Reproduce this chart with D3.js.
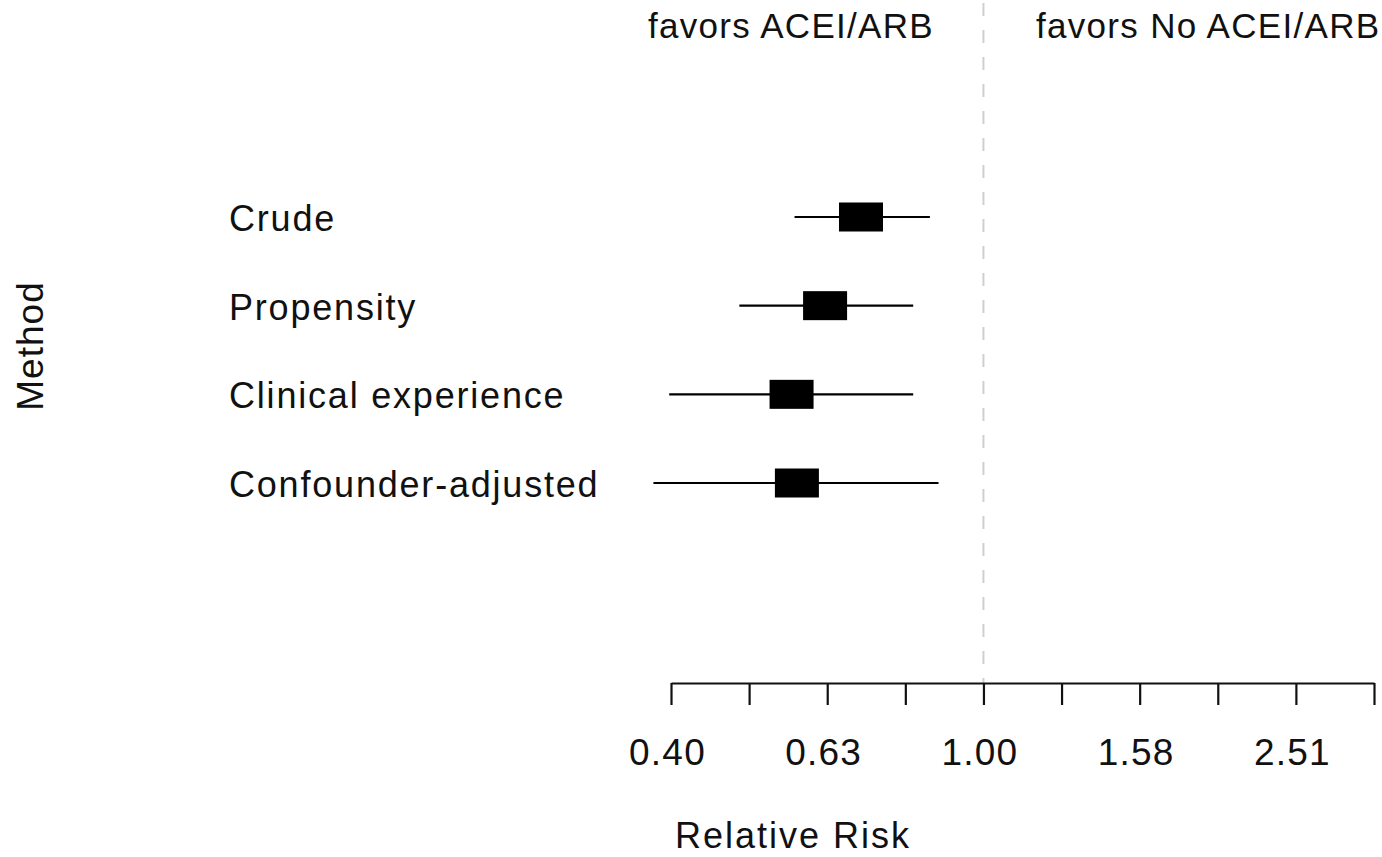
<!DOCTYPE html>
<html>
<head>
<meta charset="utf-8">
<script src="https://cdn.jsdelivr.net/npm/d3@7"></script>
<style>
  html, body { margin: 0; padding: 0; background: #fff; }
  svg { display: block; }
  text { font-family: "Liberation Sans", Arial, sans-serif; fill: #111; }
</style>
</head>
<body>
<svg id="chart" width="1382" height="857"></svg>
<script>
// ---- data ----
const methods = ["Crude", "Propensity", "Clinical experience", "Confounder-adjusted"];
const estimates = [0.697, 0.627, 0.568, 0.577];
const lowerCI = [0.573, 0.487, 0.396, 0.378];
const upperCI = [0.854, 0.813, 0.813, 0.876];
const tickExponents = [-0.4, -0.3, -0.2, -0.1, 0, 0.1, 0.2, 0.3, 0.4, 0.5];
const tickLabels = ["0.40", "", "0.63", "", "1.00", "", "1.58", "", "2.51", ""];
const leftLabel = "favors ACEI/ARB";
const rightLabel = "favors No ACEI/ARB";
const xTitle = "Relative Risk";
const yTitle = "Method";

// ---- layout ----
const svg = d3.select("#chart");
const x = d3.scaleLog()
  .domain([Math.pow(10, -0.4), Math.pow(10, 0.5)])
  .range([671, 1374]);
const y = d3.scalePoint()
  .domain(methods)
  .range([217, 483]);
const axisY = 683;

// reference dashed line at 1
svg.append("line")
  .attr("x1", x(1)).attr("x2", x(1))
  .attr("y1", 3).attr("y2", axisY)
  .attr("stroke", "#cfcfcf")
  .attr("stroke-width", 2)
  .attr("stroke-dasharray", "13,14");

// top labels
svg.append("text")
  .attr("x", 648).attr("y", 38)
  .style("font-size", "35px")
  .style("letter-spacing", "1.3px")
  .text(leftLabel);
svg.append("text")
  .attr("x", 1036).attr("y", 38)
  .style("font-size", "35px")
  .style("letter-spacing", "1.3px")
  .text(rightLabel);

// row labels
svg.append("g").selectAll("text")
  .data(methods)
  .join("text")
  .attr("x", 229)
  .attr("y", d => y(d) + 14)
  .style("font-size", "36px")
  .style("letter-spacing", "1.8px")
  .text(d => d);

// CI lines
const rows = methods.map((m, i) => ({m, est: estimates[i], lo: lowerCI[i], hi: upperCI[i]}));
svg.append("g").selectAll("line")
  .data(rows)
  .join("line")
  .attr("x1", d => x(d.lo))
  .attr("x2", d => x(d.hi))
  .attr("y1", d => y(d.m))
  .attr("y2", d => y(d.m))
  .attr("stroke", "#000")
  .attr("stroke-width", 2.2);

// boxes
const bw = 44, bh = 29;
svg.append("g").selectAll("rect")
  .data(rows)
  .join("rect")
  .attr("x", d => x(d.est) - bw / 2)
  .attr("y", d => y(d.m) - bh / 2)
  .attr("width", bw)
  .attr("height", bh)
  .attr("fill", "#000");

// x axis
const axis = d3.axisBottom(x)
  .tickValues(tickExponents.map(e => Math.pow(10, e)))
  .tickFormat((d, i) => tickLabels[i])
  .tickSize(22)
  .tickSizeOuter(0)
  .tickPadding(34);
const gAxis = svg.append("g")
  .attr("transform", `translate(0,${axisY})`)
  .call(axis);
gAxis.select(".domain").attr("stroke", "#111").attr("stroke-width", 2.2);
gAxis.selectAll(".tick line").attr("stroke", "#111").attr("stroke-width", 2.2);
gAxis.selectAll(".tick text")
  .style("font-family", "'Liberation Sans', Arial, sans-serif")
  .style("font-size", "37px")
  .style("letter-spacing", "1.2px")
  .attr("fill", "#111")
  .attr("dx", "-4");

// axis titles
svg.append("text")
  .attr("x", 793).attr("y", 848)
  .attr("text-anchor", "middle")
  .style("font-size", "36px")
  .style("letter-spacing", "2px")
  .text(xTitle);
svg.append("text")
  .attr("transform", "translate(43,346) rotate(-90)")
  .attr("text-anchor", "middle")
  .style("font-size", "37px")
  .style("letter-spacing", "1px")
  .text(yTitle);
</script>
</body>
</html>
